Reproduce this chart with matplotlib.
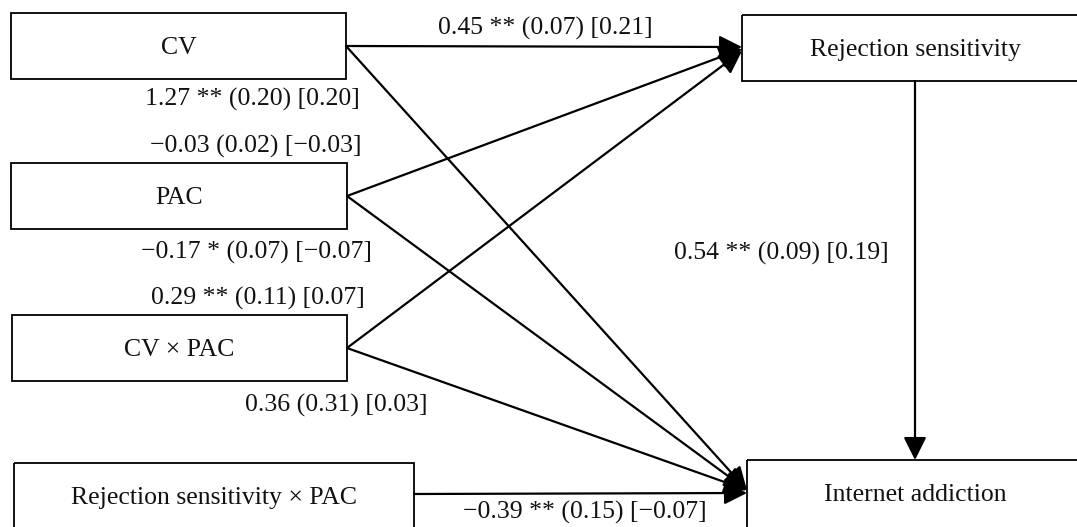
import matplotlib.pyplot as plt
from matplotlib.patches import Rectangle

# node labels
nodes = ['CV', 'PAC', 'CV × PAC', 'Rejection sensitivity × PAC',
         'Rejection sensitivity', 'Internet addiction']

# path coefficients: b (SE) [beta]
path_labels = ['0.45 ** (0.07) [0.21]',
               '1.27 ** (0.20) [0.20]',
               '−0.03 (0.02) [−0.03]',
               '−0.17 * (0.07) [−0.07]',
               '0.29 ** (0.11) [0.07]',
               '0.36 (0.31) [0.03]',
               '0.54 ** (0.09) [0.19]',
               '−0.39 ** (0.15) [−0.07]']

# layout (pixel units, y downwards)
boxes = {
    'CV': (11, 13, 335, 66),
    'PAC': (11, 163, 336, 66),
    'CV × PAC': (12, 315, 335, 66),
    'Rejection sensitivity × PAC': (14, 463, 400, 70),
    'Rejection sensitivity': (742, 15, 340, 66),
    'Internet addiction': (747, 460, 335, 70),
}
text_x = {'Rejection sensitivity': 915, 'Internet addiction': 915}
arrows = [
    ((346, 46), (742, 47)),
    ((346, 46), (747, 490)),
    ((347, 196), (742, 49)),
    ((347, 196), (747, 490)),
    ((347, 348), (742, 51)),
    ((347, 348), (747, 490)),
    ((414, 494), (747, 493)),
    ((915, 81), (915, 460)),
]
label_pos = [(545, 28), (252, 99), (256, 146), (256, 252),
             (258, 298), (336, 405), (781, 253), (585, 512)]

plt.rcParams['font.family'] = ['Liberation Serif', 'DejaVu Serif']
fig = plt.figure(figsize=(10.77, 5.27), dpi=100)
ax = fig.add_axes([0, 0, 1, 1])
ax.set_xlim(0, 1077)
ax.set_ylim(527, 0)
ax.axis('off')

for name in nodes:
    x, y, w, h = boxes[name]
    ax.add_patch(Rectangle((x, y), w, h, fill=False, edgecolor='black', linewidth=1.3))
    ax.text(text_x.get(name, x + w / 2), y + 35, name,
            ha='center', va='center', fontsize=18.5, color='#111111')

for (x0, y0), (x1, y1) in arrows:
    ax.annotate('', xy=(x1, y1), xytext=(x0, y0),
                arrowprops=dict(arrowstyle='-|>,head_length=0.7,head_width=0.35',
                                mutation_scale=20, color='black', lw=1.6,
                                shrinkA=0, shrinkB=0))

for txt, (x, y) in zip(path_labels, label_pos):
    ax.text(x, y, txt, ha='center', va='center', fontsize=18.5, color='#111111')

fig.savefig('out.png', dpi=100)
